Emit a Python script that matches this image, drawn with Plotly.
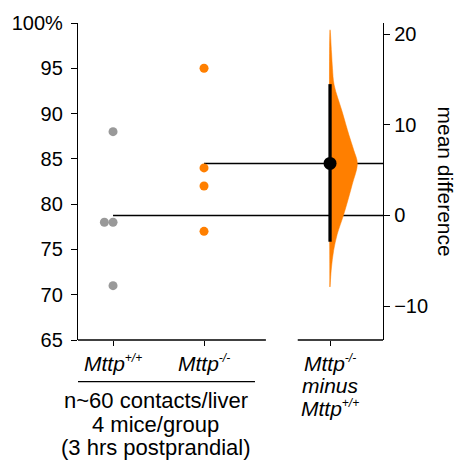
import plotly.graph_objects as go

# ---- data ----
SUP_WT = "<sup><span style='font-size:12px'>+/+</span></sup>"
SUP_KO = "<sup><span style='font-size:12px'>-/-</span></sup>"
group_labels = ["<i>Mttp" + SUP_WT + "</i>", "<i>Mttp" + SUP_KO + "</i>"]
diff_label_lines = ["<i>Mttp" + SUP_KO + "</i>", "<i>minus</i>", "<i>Mttp" + SUP_WT + "</i>"]
wt_values = [88, 78, 78, 71]
ko_values = [95, 84, 82, 77]
ci_low, ci_high = -2.9, 14.5
# bootstrap distribution of the mean difference
boot_diff = [20.5, 18.0, 16.2, 14.4, 11.5, 8.9, 7.2, 5.75, 3.4, 0.1, -2.1, -3.9, -5.8, -7.9]
boot_density = [0.0, 0.055, 0.09, 0.15, 0.44, 0.69, 0.87, 1.0, 0.81, 0.5, 0.26, 0.13, 0.05, 0.0]
left_ticks = [65, 70, 75, 80, 85, 90, 95, 100]
left_ticktext = ["65", "70", "75", "80", "85", "90", "95", "100%"]
right_ticks = [-10, 0, 10, 20]
right_ticktext = ["\u221210", "0", "10", "20"]
footnote_lines = ["n~60 contacts/liver", "4 mice/group", "(3 hrs postprandial)"]

# ---- derived ----
mean_wt = sum(wt_values) / len(wt_values)
mean_ko = sum(ko_values) / len(ko_values)
mean_diff = mean_ko - mean_wt
Y_MIN, Y_MAX = 65, 100

GRAY = "#999999"
ORANGE = "#ff7f00"
FONT = "Liberation Sans, Arial, sans-serif"

pos_wt, pos_ko, pos_diff = 0, 1, 2.385
X_MIN, X_MAX = -0.385, 2.967
SWARM_STEP = 0.095
VIOLIN_W = 0.30
PLOT_TOP, PLOT_H = 20, 320  # pixels


def swarm_x(values, base):
    seen = {}
    xs = []
    for v in values:
        k = seen.get(v, 0)
        seen[v] = k + 1
        xs.append(base - k * SWARM_STEP)
    return xs


def py(pix):
    """pixel row -> paper y"""
    return (PLOT_TOP + PLOT_H - pix) / PLOT_H


fig = go.Figure()

# mean lines extending to the right axis
for pos, m in [(pos_wt, mean_wt), (pos_ko, mean_ko)]:
    fig.add_trace(go.Scatter(x=[pos, X_MAX], y=[m, m], mode="lines",
                             line=dict(color="black", width=1.5),
                             hoverinfo="skip", showlegend=False, yaxis="y"))

# raw points
fig.add_trace(go.Scatter(x=swarm_x(wt_values, pos_wt), y=wt_values, mode="markers",
                         marker=dict(color=GRAY, size=9), showlegend=False, yaxis="y"))
fig.add_trace(go.Scatter(x=swarm_x(ko_values, pos_ko), y=ko_values, mode="markers",
                         marker=dict(color=ORANGE, size=9), showlegend=False, yaxis="y"))

# half violin of bootstrap distribution
vx = [pos_diff + VIOLIN_W * d for d in boot_density] + [pos_diff, pos_diff]
vy = boot_diff + [boot_diff[-1], boot_diff[0]]
fig.add_trace(go.Scatter(x=vx, y=vy, mode="lines", fill="toself", fillcolor=ORANGE,
                         line=dict(color=ORANGE, width=0.5, shape="spline"),
                         hoverinfo="skip", showlegend=False, yaxis="y2"))

# CI and mean difference
fig.add_trace(go.Scatter(x=[pos_diff, pos_diff], y=[ci_low, ci_high], mode="lines",
                         line=dict(color="black", width=3.3),
                         showlegend=False, yaxis="y2"))
fig.add_trace(go.Scatter(x=[pos_diff], y=[mean_diff], mode="markers",
                         marker=dict(color="black", size=13),
                         showlegend=False, yaxis="y2"))

shapes = [
    dict(type="line", xref="x", yref="paper", x0=X_MIN, x1=1.68, y0=0, y1=0,
         line=dict(color="black", width=1.3)),
    dict(type="line", xref="x", yref="paper", x0=2.03, x1=X_MAX, y0=0, y1=0,
         line=dict(color="black", width=1.3)),
    dict(type="line", xref="x", yref="paper", x0=-0.637, x1=1.56, y0=py(382), y1=py(382),
         line=dict(color="black", width=1.3)),
]

annotations = []
LABEL_FONT = dict(size=21, color="black", family=FONT)
for pos, lab in [(pos_wt, group_labels[0]), (pos_ko, group_labels[1])]:
    annotations.append(dict(text=lab, x=pos, xref="x", y=py(363), yref="paper",
                            yanchor="middle", showarrow=False, font=LABEL_FONT))
for i, lab in enumerate(diff_label_lines):
    annotations.append(dict(text=lab, x=pos_diff, xref="x", y=py(363 + 23 * i), yref="paper",
                            yanchor="middle", showarrow=False, font=LABEL_FONT))
for i, line in enumerate(footnote_lines):
    annotations.append(dict(text=line, x=0.47, xref="x", y=py(401 + 24 * i), yref="paper",
                            yanchor="middle", showarrow=False,
                            font=dict(size=22, color="black", family=FONT)))
annotations.append(dict(text="mean difference", textangle=90, x=1.0, xref="paper",
                        xanchor="center", xshift=62, y=py(180), yref="paper",
                        yanchor="middle", showarrow=False,
                        font=dict(size=21, color="black", family=FONT)))

fig.update_layout(
    width=457, height=462,
    margin=dict(l=78, r=74, t=PLOT_TOP, b=462 - PLOT_TOP - PLOT_H),
    paper_bgcolor="white", plot_bgcolor="white",
    font=dict(family=FONT, color="black"),
    shapes=shapes, annotations=annotations,
    xaxis=dict(range=[X_MIN, X_MAX], showline=False, showgrid=False, zeroline=False,
               tickvals=[pos_wt, pos_ko, pos_diff], ticktext=["", "", ""],
               ticks="outside", ticklen=5, tickcolor="black", tickwidth=1.3),
    yaxis=dict(range=[Y_MIN, Y_MAX], showline=True, linecolor="black", linewidth=1.3,
               showgrid=False, zeroline=False, tickvals=left_ticks, ticktext=left_ticktext,
               ticks="outside", ticklen=6, tickcolor="black", tickwidth=1.3,
               ticklabelstandoff=4,
               tickfont=dict(size=20, color="black", family=FONT)),
    yaxis2=dict(range=[Y_MIN - mean_wt, Y_MAX - mean_wt], overlaying="y", side="right",
                anchor="x", showline=True, linecolor="black", linewidth=1.3,
                showgrid=False, zeroline=False, tickvals=right_ticks, ticktext=right_ticktext,
                ticks="outside", ticklen=6, tickcolor="black", tickwidth=1.3,
                tickfont=dict(size=20, color="black", family=FONT)),
)

fig.write_html("out.html")
